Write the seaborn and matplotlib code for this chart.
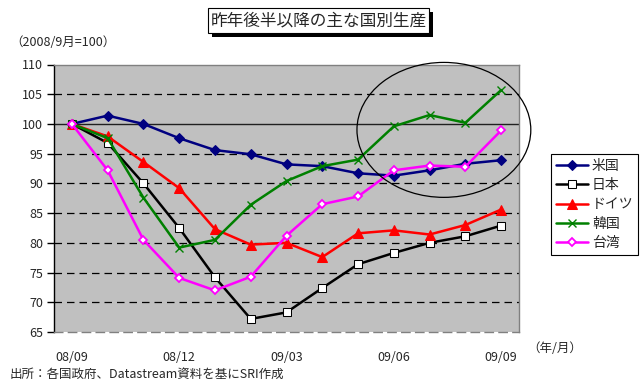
import matplotlib
matplotlib.use("Agg")
import matplotlib.pyplot as plt
from matplotlib.patches import Rectangle, Ellipse
import numpy as np
import pandas as pd
import seaborn as sns

sns.set_theme(style="white")
plt.rcParams["font.family"] = ["Noto Sans CJK JP", "DejaVu Sans"]

# Monthly index, Sep 2008 = 100
months = ["08/09", "08/10", "08/11", "08/12", "09/01", "09/02", "09/03",
          "09/04", "09/05", "09/06", "09/07", "09/08", "09/09"]
tick_labels = ["08/09", "", "", "08/12", "", "", "09/03", "", "", "09/06", "", "", "09/09"]
us = [100, 101.4, 100.0, 97.6, 95.6, 94.9, 93.2, 92.9, 91.7, 91.3, 92.2, 93.3, 93.9]
japan = [100, 96.8, 90.0, 82.5, 74.2, 67.2, 68.3, 72.4, 76.4, 78.3, 80.0, 81.1, 82.9]
germany = [100, 97.9, 93.6, 89.2, 82.3, 79.7, 80.0, 77.6, 81.6, 82.1, 81.4, 83.0, 85.6]
korea = [100, 97.6, 87.6, 79.2, 80.5, 86.4, 90.4, 92.9, 94.0, 99.6, 101.5, 100.2, 105.7]
taiwan = [100, 92.2, 80.5, 74.1, 72.0, 74.3, 81.2, 86.5, 87.8, 92.2, 93.0, 92.8, 98.9]
countries = ["米国", "日本", "ドイツ", "韓国", "台湾"]

series = {"米国": us, "日本": japan, "ドイツ": germany, "韓国": korea, "台湾": taiwan}
df = pd.DataFrame(
    [(i, m, c, v) for c, vals in series.items() for i, (m, v) in enumerate(zip(months, vals))],
    columns=["idx", "month", "country", "value"],
)

styles = {
    "米国": dict(color="#000080", marker="D", markersize=4.8, markerfacecolor="#000080", markeredgecolor="#000080"),
    "日本": dict(color="#000000", marker="s", markersize=5.2, markerfacecolor="white", markeredgecolor="black"),
    "ドイツ": dict(color="#FF0000", marker="^", markersize=6.5, markerfacecolor="#FF0000", markeredgecolor="#FF0000"),
    "韓国": dict(color="#008000", marker="x", markersize=5.5, markerfacecolor="#008000", markeredgecolor="#008000", markeredgewidth=1.0),
    "台湾": dict(color="#FF00FF", marker="D", markersize=4.3, markerfacecolor="white", markeredgecolor="#FF00FF", markeredgewidth=1.3),
}

fig = plt.figure(figsize=(6.4, 3.83), dpi=100)
fig.patch.set_facecolor("white")
ax = fig.add_axes([54 / 640, 1 - 332 / 383, 465 / 640, (332 - 64.5) / 383])
ax.set_facecolor("#C0C0C0")

# Reference grid lines
for yv in [70, 75, 80, 85, 90, 95, 105]:
    ax.axhline(yv, color="#000000", lw=0.9, ls=(0, (6, 4)), zorder=1)
ax.axhline(100, color="#202020", lw=1.0, zorder=1)

for c in countries:
    sub = df[df["country"] == c]
    sns.lineplot(data=sub, x="idx", y="value", ax=ax, label=c, lw=1.8, zorder=3, **styles[c])

ax.set_xlim(-0.5, 12.5)
ax.set_ylim(65, 110)
ax.set_yticks(np.arange(65, 111, 5))
ax.set_yticklabels([str(v) for v in range(65, 111, 5)], fontsize=9)
ax.set_xticks(range(len(months)))
ax.set_xticklabels(tick_labels, fontsize=9)
ax.tick_params(axis="y", direction="out", length=5, width=1, color="black", pad=3, left=True)
ax.tick_params(axis="x", length=0, pad=14)
ax.set_xlabel("")
ax.set_ylabel("")

for side in ["top", "right", "bottom"]:
    ax.spines[side].set_color("#808080")
    ax.spines[side].set_linewidth(1.0)
ax.spines["left"].set_color("black")
ax.spines["left"].set_linewidth(1.0)
ax.spines["bottom"].set_linestyle((0, (6, 4)))

# Highlight around the recent months
ell = Ellipse((10.4, 99.0), 4.86, 22.7, fill=False, edgecolor="black", lw=0.9, clip_on=False, zorder=4)
ax.add_patch(ell)

ax.get_legend().remove()
handles, labels = ax.get_legend_handles_labels()
leg = fig.legend(handles, labels, loc="upper left", bbox_to_anchor=(551 / 640, 1 - 154 / 383),
                 bbox_transform=fig.transFigure, fontsize=10, frameon=True, fancybox=False,
                 edgecolor="black", framealpha=1, borderaxespad=0, handlelength=2.3,
                 handletextpad=0.3, labelspacing=0.38, borderpad=0.35)
leg.get_frame().set_linewidth(0.8)

# Title box with drop shadow
bx, by, bw, bh = 208, 8, 221, 25
fig.patches.append(Rectangle(((bx + 4) / 640, 1 - (by + bh + 4) / 383), bw / 640, bh / 383,
                             transform=fig.transFigure, facecolor="black", edgecolor="none", zorder=1))
fig.patches.append(Rectangle((bx / 640, 1 - (by + bh) / 383), bw / 640, bh / 383,
                             transform=fig.transFigure, facecolor="white", edgecolor="black", lw=0.8, zorder=2))
fig.text((bx + bw / 2) / 640, 1 - (by + bh / 2) / 383, "昨年後半以降の主な国別生産",
         ha="center", va="center", fontsize=12, zorder=3)

fig.text(10 / 640, 1 - 43 / 383, "（2008/9月=100）", ha="left", va="center", fontsize=9)
fig.text(527 / 640, 1 - 348 / 383, "（年/月）", ha="left", va="center", fontsize=9)
fig.text(10 / 640, 1 - 374 / 383, "出所：各国政府、Datastream資料を基にSRI作成", ha="left", va="center", fontsize=9)

fig.savefig("out.png", dpi=100)
